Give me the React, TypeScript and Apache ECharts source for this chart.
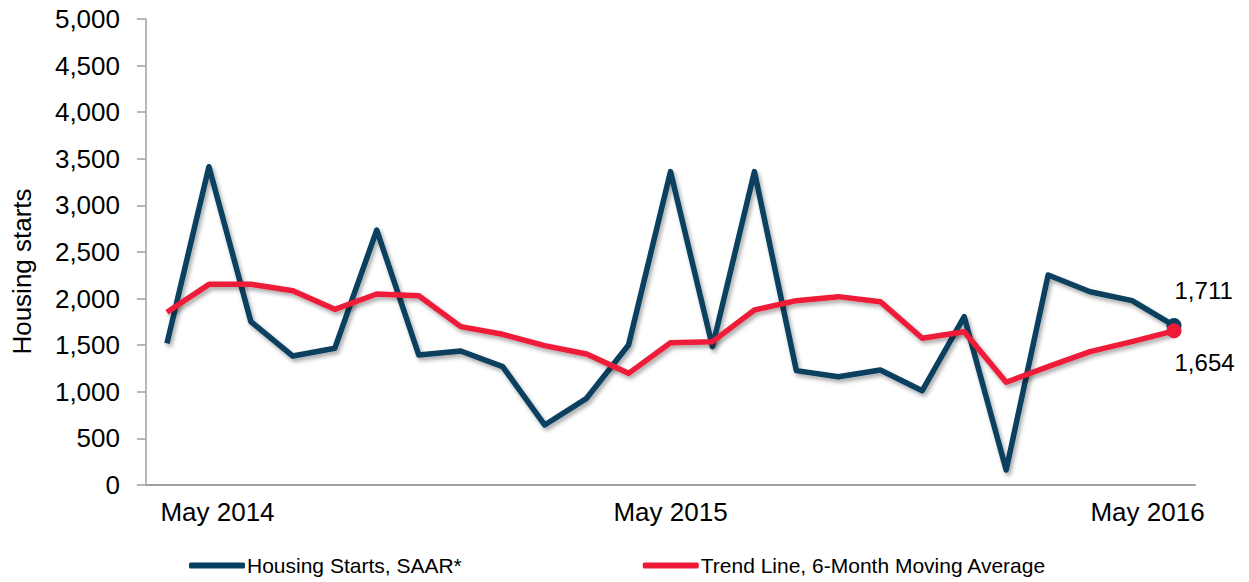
import React, { useEffect, useRef } from "react";
import * as echarts from "echarts";

const months = [
  "May 2014", "Jun 2014", "Jul 2014", "Aug 2014", "Sep 2014", "Oct 2014", "Nov 2014", "Dec 2014",
  "Jan 2015", "Feb 2015", "Mar 2015", "Apr 2015", "May 2015", "Jun 2015", "Jul 2015", "Aug 2015",
  "Sep 2015", "Oct 2015", "Nov 2015", "Dec 2015", "Jan 2016", "Feb 2016", "Mar 2016", "Apr 2016",
  "May 2016",
];

const housingStarts = [
  1520, 3415, 1752, 1384, 1467, 2736, 1395, 1438, 1270, 644, 930, 1502, 3362,
  1484, 3362, 1227, 1162, 1234, 1012, 1806, 161, 2253, 2074, 1978, 1711,
];

const trendLine = [
  1853, 2153, 2153, 2085, 1885, 2049, 2031, 1699, 1617, 1495, 1406, 1198, 1527,
  1538, 1878, 1978, 2021, 1967, 1574, 1645, 1102, 1270, 1431, 1538, 1654,
];

const yTicks = { min: 0, max: 5000, interval: 500 };

const BLUE = "#07405F";
const RED = "#EE1B38";
const FONT = "Liberation Sans, Arial, sans-serif";

const fmt = (v: number) => v.toLocaleString("en-US");

function buildData(values: number[], color: string, offset: number[]) {
  const last = values.length - 1;
  return values.map((v, i) =>
    i === last
      ? {
          value: v,
          symbol: "circle",
          symbolSize: 15,
          itemStyle: { color },
          label: {
            show: true,
            position: "right",
            offset,
            formatter: (p: any) => fmt(p.value),
            fontSize: 24,
            fontFamily: FONT,
            color: "#000",
          },
        }
      : { value: v }
  );
}

export default function App() {
  const ref = useRef<HTMLDivElement>(null);
  useEffect(() => {
    if (!ref.current) return;
    const chart = echarts.init(ref.current, null, { renderer: "svg" });
    const shadow = {
      shadowColor: "rgba(0,0,0,0.35)",
      shadowBlur: 4,
      shadowOffsetX: 2,
      shadowOffsetY: 3,
    };
    chart.setOption({
      animation: false,
      backgroundColor: "#fff",
      grid: { left: 146, right: 54, top: 19, bottom: 97, containLabel: false },
      legend: {
        left: 184,
        top: 550,
        itemWidth: 56,
        itemHeight: 6,
        itemGap: 181,
        icon: "roundRect",
        textStyle: { fontSize: 21, fontFamily: FONT, color: "#000", padding: [0, 0, 0, -3] },
        data: ["Housing Starts, SAAR*", "Trend Line, 6-Month Moving Average"],
      },
      xAxis: {
        type: "category",
        data: months,
        boundaryGap: true,
        axisLine: { show: true, lineStyle: { color: "#a0a0a0", width: 2 } },
        axisTick: { show: false },
        axisLabel: {
          interval: (index: number) => index % 12 === 0,
          margin: 14,
          color: "#000",
          fontSize: 26,
          fontFamily: FONT,
          formatter: (value: string, index: number) =>
            index === 0 ? `{first|${value}}` : index === months.length - 1 ? `{last|${value}}` : `{mid|${value}}`,
          rich: {
            first: { fontSize: 26, fontFamily: FONT, color: "#000", padding: [0, 0, 0, 101] },
            mid: { fontSize: 26, fontFamily: FONT, color: "#000" },
            last: { fontSize: 26, fontFamily: FONT, color: "#000", padding: [0, 53, 0, 0] },
          },
        },
        splitLine: { show: false },
      },
      yAxis: {
        type: "value",
        min: yTicks.min,
        max: yTicks.max,
        interval: yTicks.interval,
        name: "Housing starts",
        nameLocation: "middle",
        nameGap: 111,
        nameTextStyle: { fontSize: 26, fontFamily: FONT, color: "#000", padding: [0, 39, 0, 0] },
        axisLine: { show: true, lineStyle: { color: "#a0a0a0", width: 1.5 } },
        axisTick: { show: true, inside: false, length: 9, lineStyle: { color: "#a0a0a0", width: 1.5 } },
        axisLabel: {
          margin: 26,
          color: "#000",
          fontSize: 26,
          fontFamily: FONT,
          formatter: (v: number) => fmt(v),
        },
        splitLine: { show: false },
      },
      series: [
        {
          name: "Housing Starts, SAAR*",
          type: "line",
          symbol: "none",
          showSymbol: true,
          color: BLUE,
          lineStyle: { color: BLUE, width: 5.5, join: "round", ...shadow },
          data: buildData(housingStarts, BLUE, [-12, -35]),
          z: 2,
        },
        {
          name: "Trend Line, 6-Month Moving Average",
          type: "line",
          symbol: "none",
          showSymbol: true,
          color: RED,
          lineStyle: { color: RED, width: 5.5, join: "round", ...shadow },
          data: buildData(trendLine, RED, [-12, 32]),
          z: 3,
        },
      ],
    });
    return () => chart.dispose();
  }, []);
  return <div ref={ref} style={{ width: 1249, height: 582, position: "absolute", left: 0, top: 0 }} />;
}
